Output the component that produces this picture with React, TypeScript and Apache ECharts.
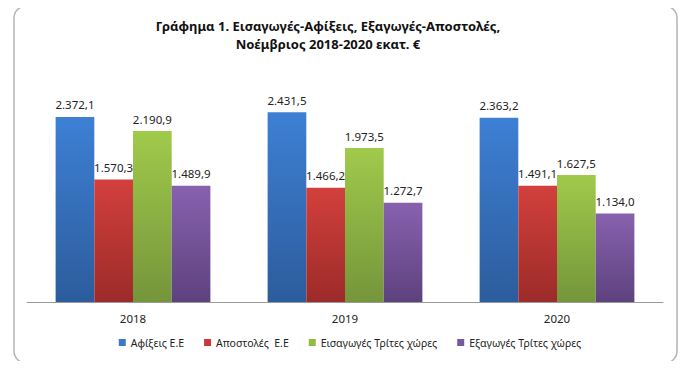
import React, { useEffect, useRef } from "react";
import * as echarts from "echarts";

const categories = ["2018", "2019", "2020"];
const seriesNames = ["Αφίξεις Ε.Ε", "Αποστολές  Ε.Ε", "Εισαγωγές Τρίτες χώρες", "Εξαγωγές Τρίτες χώρες"];
const arrivalsEU = [2372.1, 2431.5, 2363.2];
const dispatchesEU = [1570.3, 1466.2, 1491.1];
const importsThird = [2190.9, 1973.5, 1627.5];
const exportsThird = [1489.9, 1272.7, 1134.0];
const titleLines = ["Γράφημα 1. Εισαγωγές-Αφίξεις, Εξαγωγές-Αποστολές,", "Νοέμβριος 2018-2020 εκατ. €"];

const topColors = ["#3d80d4", "#d2403c", "#a0ca4b", "#8861ae"];
const bottomColors = ["#2c5c9c", "#9c2b29", "#75953a", "#5d427e"];
const legendColors = ["#3a78c8", "#c83a38", "#92bb44", "#7a58a0"];

function fmt(v: number): string {
  const [i, d] = v.toFixed(1).split(".");
  const ii = i.replace(/\B(?=(\d{3})+(?!\d))/g, ".");
  return ii + "," + d;
}

const FONT = "Noto Sans";

export default function App() {
  const ref = useRef<HTMLDivElement>(null);
  useEffect(() => {
    if (!ref.current) return;
    const chart = echarts.init(ref.current, null, { renderer: "svg" });
    const all = [arrivalsEU, dispatchesEU, importsThird, exportsThird];
    chart.setOption({
      animation: false,
      backgroundColor: "#ffffff",
      title: {
        text: titleLines.join("\n"),
        left: 323,
        textAlign: "center",
        top: 12,
        textStyle: { fontFamily: FONT, fontSize: 13, fontWeight: "bold", color: "#111", lineHeight: 18 },
      },
      graphic: [
        {
          type: "rect",
          shape: { x: 14, y: 6, width: 663, height: 357, r: 12 },
          style: { fill: "none", stroke: "#b4b4b4", lineWidth: 1.5 },
          silent: true,
        },
      ],
      legend: {
        bottom: 16,
        left: "center",
        icon: "rect",
        itemWidth: 7,
        itemHeight: 7,
        itemGap: 20,
        textStyle: { fontFamily: FONT, fontSize: 10.5, color: "#222" },
        data: seriesNames.map((n, i) => ({ name: n, itemStyle: { color: legendColors[i] } })),
      },
      grid: { left: 27, right: 37, top: 68, bottom: 67 },
      xAxis: {
        type: "category",
        data: categories,
        axisLine: { lineStyle: { color: "#9a9a9a", width: 1 } },
        axisTick: { show: false },
        axisLabel: { fontFamily: FONT, fontSize: 11.5, color: "#222", margin: 10 },
      },
      yAxis: { type: "value", min: 0, max: 3000, show: false, splitLine: { show: false } },
      series: all.map((d, i) => ({
        type: "bar",
        name: seriesNames[i],
        data: d,
        barGap: "0%",
        barCategoryGap: "27%",
        itemStyle: {
          color: new echarts.graphic.LinearGradient(0, 0, 0, 1, [
            { offset: 0, color: topColors[i] },
            { offset: 1, color: bottomColors[i] },
          ]),
        },
        label: {
          show: true,
          position: "top",
          distance: 6,
          fontFamily: FONT,
          fontSize: 11.5,
          color: "#222",
          formatter: (p: any) => fmt(p.value),
        },
      })),
    });
    return () => chart.dispose();
  }, []);
  return <div ref={ref} style={{ width: 700, height: 369, margin: -8 }} />;
}
